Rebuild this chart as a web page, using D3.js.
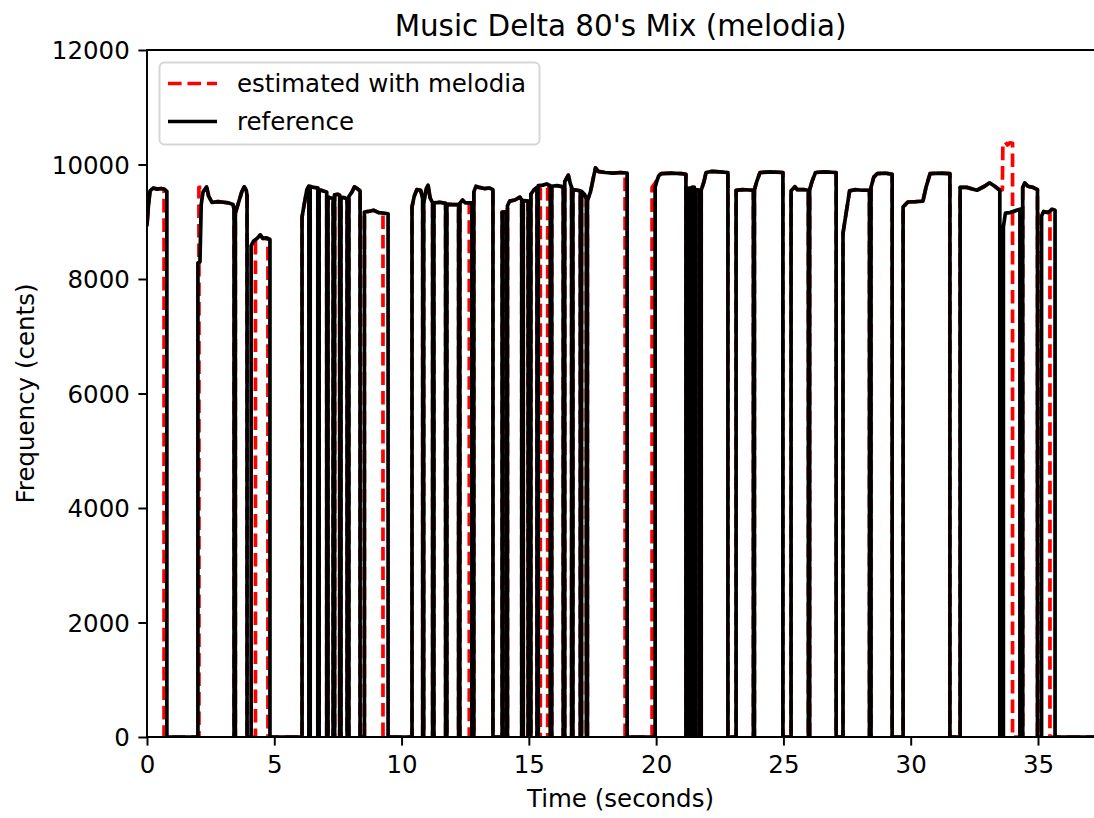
<!DOCTYPE html>
<html>
<head>
<meta charset="utf-8">
<script src="https://cdn.jsdelivr.net/npm/d3@7"></script>
<style>
  html, body { margin: 0; padding: 0; background: #ffffff; }
  svg { display: block; }
  text { font-family: "DejaVu Sans", sans-serif; fill: #000; }
</style>
</head>
<body>
<svg id="chart" width="1094" height="818"></svg>
<script>
// ---- chart text ----
const chartTitle = "Music Delta 80's Mix (melodia)";
const xLabel = "Time (seconds)";
const yLabel = "Frequency (cents)";
const seriesNames = ["estimated with melodia", "reference"];

// ---- axes ----
const xTicks = [0, 5, 10, 15, 20, 25, 30, 35];
const yTicks = [0, 2000, 4000, 6000, 8000, 10000, 12000];
const timeEnd = 37.2;     // last frame of the track (s)
const centsMax = 12000;

// ---- voiced segments: [time (s), pitch (cents)] ----
const refSegments = [
  [[0, 8950], [0.06, 9300], [0.12, 9540], [0.25, 9590], [0.4, 9570], [0.55, 9580], [0.68, 9570], [0.78, 9530]],
  [[2.0, 8280], [2.08, 8300], [2.13, 9300], [2.2, 9520], [2.34, 9610], [2.42, 9450], [2.55, 9340], [2.8, 9350], [3.0, 9340], [3.2, 9330], [3.38, 9300], [3.42, 9220]],
  [[3.47, 9150], [3.6, 9340], [3.72, 9520], [3.82, 9610], [3.9, 9550], [3.93, 9460]],
  [[4.09, 8580], [4.18, 8660], [4.3, 8700], [4.45, 8770], [4.55, 8710], [4.7, 8720], [4.83, 8690]],
  [[6.09, 9080], [6.15, 9240], [6.28, 9560], [6.36, 9620]],
  [[6.41, 9620], [6.55, 9600], [6.71, 9590]],
  [[6.76, 9560], [6.9, 9540], [7.06, 9520]],
  [[7.11, 9430], [7.2, 9420], [7.31, 9410]],
  [[7.37, 9470], [7.5, 9480], [7.57, 9460]],
  [[7.62, 9420], [7.75, 9420], [7.86, 9400]],
  [[7.93, 9440], [8.05, 9520], [8.15, 9610], [8.25, 9580], [8.37, 9540]],
  [[8.54, 9170], [8.7, 9180], [8.9, 9200], [9.1, 9160], [9.3, 9150], [9.47, 9140]],
  [[10.41, 9260], [10.5, 9450], [10.6, 9560], [10.75, 9550], [10.83, 9400]],
  [[10.87, 9330], [10.97, 9580], [11.04, 9640], [11.12, 9420], [11.22, 9330]],
  [[11.27, 9330], [11.5, 9340], [11.73, 9320]],
  [[11.78, 9310], [12.0, 9300], [12.24, 9300]],
  [[12.29, 9320], [12.4, 9380], [12.5, 9330], [12.76, 9330]],
  [[12.84, 9520], [12.92, 9620], [13.05, 9600], [13.25, 9580], [13.45, 9590], [13.59, 9560]],
  [[13.95, 9170], [14.1, 9170]],
  [[14.16, 9280], [14.25, 9360], [14.45, 9380], [14.65, 9430], [14.72, 9380]],
  [[14.78, 9370], [14.97, 9360]],
  [[15.08, 9480], [15.2, 9560], [15.32, 9600]],
  [[15.37, 9630], [15.55, 9640], [15.7, 9660], [15.84, 9630]],
  [[15.9, 9620], [16.1, 9630], [16.35, 9610]],
  [[16.41, 9700], [16.55, 9815], [16.62, 9680], [16.68, 9600]],
  [[16.73, 9560], [16.9, 9550], [17.02, 9540]],
  [[17.07, 9530], [17.18, 9480], [17.26, 9400]],
  [[17.3, 9370], [17.42, 9520], [17.55, 9800], [17.62, 9940], [17.72, 9880], [18.0, 9860], [18.3, 9850], [18.6, 9860], [18.86, 9850]],
  [[19.96, 9600], [20.02, 9700], [20.1, 9800], [20.2, 9840], [20.6, 9850], [21.0, 9840], [21.17, 9830]],
  [[21.23, 9580], [21.36, 9590]],
  [[21.41, 9600], [21.5, 9600]],
  [[21.55, 9560], [21.7, 9550]],
  [[21.77, 9550], [21.88, 9700], [21.96, 9860], [22.2, 9880], [22.5, 9870], [22.82, 9860]],
  [[23.14, 9550], [23.4, 9560], [23.82, 9550]],
  [[23.86, 9560], [23.95, 9700], [24.08, 9860], [24.5, 9870], [24.98, 9860]],
  [[25.3, 9540], [25.45, 9610], [25.55, 9560], [25.8, 9560], [25.98, 9550]],
  [[26.03, 9560], [26.12, 9700], [26.26, 9860], [26.6, 9870], [27.07, 9860]],
  [[27.34, 8800], [27.48, 9200], [27.6, 9540], [27.8, 9560], [28.1, 9550], [28.38, 9550]],
  [[28.44, 9600], [28.55, 9780], [28.68, 9840], [29.0, 9850], [29.27, 9830]],
  [[29.7, 9260], [29.89, 9345], [30.2, 9350], [30.48, 9360], [30.6, 9600], [30.76, 9840], [31.1, 9850], [31.54, 9840]],
  [[31.94, 9600], [32.2, 9600], [32.6, 9550], [32.9, 9620], [33.1, 9680], [33.3, 9620], [33.5, 9550]],
  [[33.64, 8910], [33.72, 9150], [33.9, 9160], [34.1, 9190], [34.29, 9220]],
  [[34.4, 9600], [34.48, 9680], [34.6, 9620], [34.8, 9600], [34.98, 9560]],
  [[35.14, 9100], [35.22, 9180], [35.4, 9160], [35.55, 9220], [35.67, 9200]]
];

const estSegments = [
  [[0, 8950], [0.06, 9300], [0.12, 9540], [0.25, 9590], [0.4, 9570], [0.55, 9580], [0.67, 9560]],
  [[2.04, 9600], [2.34, 9610], [2.42, 9450], [2.55, 9340], [2.8, 9350], [3.0, 9340], [3.2, 9330], [3.38, 9300], [3.42, 9220]],
  [[3.47, 9150], [3.6, 9340], [3.72, 9520], [3.82, 9610], [3.9, 9550], [3.93, 9460]],
  [[4.26, 8690], [4.45, 8770], [4.55, 8710], [4.75, 8700]],
  [[6.09, 9080], [6.15, 9240], [6.28, 9560], [6.36, 9620]],
  [[6.41, 9620], [6.55, 9600], [6.71, 9590]],
  [[6.76, 9560], [6.9, 9540], [7.06, 9520]],
  [[7.11, 9430], [7.2, 9420], [7.31, 9410]],
  [[7.37, 9470], [7.5, 9480], [7.57, 9460]],
  [[7.62, 9420], [7.75, 9420], [7.86, 9400]],
  [[7.93, 9440], [8.05, 9520], [8.15, 9610], [8.25, 9580], [8.37, 9540]],
  [[8.54, 9170], [8.7, 9180], [8.9, 9200], [9.1, 9160], [9.27, 9150]],
  [[10.41, 9260], [10.5, 9450], [10.6, 9560], [10.75, 9550], [10.83, 9400]],
  [[10.87, 9330], [10.97, 9580], [11.04, 9640], [11.12, 9420], [11.22, 9330]],
  [[11.27, 9330], [11.5, 9340], [11.73, 9320]],
  [[11.78, 9310], [12.0, 9300], [12.24, 9300]],
  [[12.29, 9320], [12.4, 9380], [12.5, 9330], [12.66, 9330]],
  [[12.84, 9520], [12.92, 9620], [13.05, 9600], [13.25, 9580], [13.45, 9590], [13.59, 9560]],
  [[13.95, 9170], [14.1, 9170]],
  [[14.16, 9280], [14.25, 9360], [14.45, 9380], [14.65, 9430], [14.72, 9380]],
  [[14.78, 9370], [14.97, 9360]],
  [[15.08, 9480], [15.2, 9560], [15.32, 9600]],
  [[15.45, 9600], [15.6, 9600], [15.74, 9590]],
  [[15.9, 9620], [16.1, 9630], [16.35, 9610]],
  [[16.41, 9700], [16.55, 9815], [16.62, 9680], [16.68, 9600]],
  [[16.73, 9560], [16.9, 9550], [17.02, 9540]],
  [[17.07, 9530], [17.18, 9480], [17.26, 9400]],
  [[17.3, 9370], [17.42, 9520], [17.55, 9800], [17.62, 9940], [17.72, 9880], [18.0, 9860], [18.3, 9850], [18.6, 9860], [18.78, 9850]],
  [[19.84, 9600], [19.97, 9680], [20.1, 9800], [20.2, 9840], [20.6, 9850], [21.0, 9840], [21.17, 9830]],
  [[21.23, 9580], [21.36, 9590]],
  [[21.41, 9600], [21.5, 9600]],
  [[21.55, 9560], [21.7, 9550]],
  [[21.77, 9550], [21.88, 9700], [21.96, 9860], [22.2, 9880], [22.5, 9870], [22.82, 9860]],
  [[23.14, 9550], [23.4, 9560], [23.82, 9550]],
  [[23.86, 9560], [23.95, 9700], [24.08, 9860], [24.5, 9870], [24.98, 9860]],
  [[25.3, 9540], [25.45, 9610], [25.55, 9560], [25.8, 9560], [25.98, 9550]],
  [[26.03, 9560], [26.12, 9700], [26.26, 9860], [26.6, 9870], [27.07, 9860]],
  [[27.34, 8800], [27.48, 9200], [27.6, 9540], [27.8, 9560], [28.1, 9550], [28.38, 9550]],
  [[28.44, 9600], [28.55, 9780], [28.68, 9840], [29.0, 9850], [29.27, 9830]],
  [[29.7, 9260], [29.89, 9345], [30.2, 9350], [30.48, 9360], [30.6, 9600], [30.76, 9840], [31.1, 9850], [31.54, 9840]],
  [[31.94, 9600], [32.2, 9600], [32.6, 9550], [32.9, 9620], [33.1, 9680], [33.3, 9620], [33.5, 9550], [33.6, 9560], [33.62, 10360], [33.72, 10390], [33.8, 10340], [33.9, 10380], [34.0, 10370]],
  [[34.4, 9600], [34.48, 9680], [34.6, 9620], [34.8, 9600], [34.98, 9560]],
  [[35.0, 9150], [35.2, 9180], [35.47, 9160]]
];

// ---- layout (px) ----
const plot = { left: 147, right: 1094, top: 50, bottom: 737 };
const fontSize = 24.5;          // 10 pt
const titleSize = 29.4;         // 12 pt
const lw = 3.7;                 // 1.5 pt lines
const spineW = 1.96;            // 0.8 pt spines/ticks
const tickLen = 8.6, tickPad = 8.6;

const svg = d3.select("#chart");

const x = d3.scaleLinear().domain([0, timeEnd]).range([plot.left, plot.right]);
const y = d3.scaleLinear().domain([0, centsMax]).range([plot.bottom, plot.top]);

// unvoiced frames drop to 0 cents between segments
function trackPoints(segments) {
  const pts = [];
  segments.forEach(seg => {
    const t0 = seg[0][0], t1 = seg[seg.length - 1][0];
    if (t0 > 0) pts.push([t0, 0]);
    seg.forEach(p => pts.push(p));
    pts.push([t1, 0]);
  });
  pts.push([timeEnd, 0]);
  return pts;
}

const line = d3.line().x(d => x(d[0])).y(d => y(d[1]));

svg.append("defs").append("clipPath").attr("id", "plotClip")
  .append("rect")
  .attr("x", plot.left).attr("y", plot.top)
  .attr("width", plot.right - plot.left).attr("height", plot.bottom - plot.top);

const lines = svg.append("g").attr("clip-path", "url(#plotClip)");

lines.append("path")
  .datum(trackPoints(estSegments))
  .attr("d", line)
  .attr("fill", "none")
  .attr("stroke", "#ff0000")
  .attr("stroke-width", lw)
  .attr("stroke-dasharray", "13.6,5.9")
  .attr("stroke-linejoin", "round")
  .attr("stroke-linecap", "butt");

lines.append("path")
  .datum(trackPoints(refSegments))
  .attr("d", line)
  .attr("fill", "none")
  .attr("stroke", "#000000")
  .attr("stroke-width", lw)
  .attr("stroke-linejoin", "round")
  .attr("stroke-linecap", "square");

// ---- spines (right edge falls outside the canvas) ----
const spines = svg.append("g").attr("stroke", "#000").attr("stroke-width", spineW).attr("fill", "none");
spines.append("line").attr("x1", plot.left).attr("x2", plot.left).attr("y1", plot.top).attr("y2", plot.bottom).attr("stroke-linecap", "square");
spines.append("line").attr("x1", plot.left).attr("x2", plot.right + 2).attr("y1", plot.bottom).attr("y2", plot.bottom).attr("stroke-linecap", "square");
spines.append("line").attr("x1", plot.left).attr("x2", plot.right + 2).attr("y1", plot.top).attr("y2", plot.top).attr("stroke-linecap", "square");

// ---- x axis ----
const xAxis = d3.axisBottom(x).tickValues(xTicks).tickSizeInner(tickLen).tickSizeOuter(0).tickPadding(tickPad)
  .tickFormat(d3.format("d"));
const gx = svg.append("g").attr("transform", `translate(0,${plot.bottom})`).call(xAxis);
gx.select(".domain").remove();
gx.selectAll(".tick line").attr("stroke", "#000").attr("stroke-width", spineW);
gx.selectAll(".tick text").attr("font-size", fontSize).attr("font-family", "DejaVu Sans").attr("fill", "#000")
  .attr("dy", "0.76em");

// ---- y axis ----
const yAxis = d3.axisLeft(y).tickValues(yTicks).tickSizeInner(tickLen).tickSizeOuter(0).tickPadding(tickPad)
  .tickFormat(d3.format("d"));
const gy = svg.append("g").attr("transform", `translate(${plot.left},0)`).call(yAxis);
gy.select(".domain").remove();
gy.selectAll(".tick line").attr("stroke", "#000").attr("stroke-width", spineW);
gy.selectAll(".tick text").attr("font-size", fontSize).attr("font-family", "DejaVu Sans").attr("fill", "#000")
  .attr("dy", "0.36em");

// ---- labels ----
svg.append("text")
  .attr("x", (plot.left + plot.right) / 2).attr("y", 35.5)
  .attr("text-anchor", "middle").attr("font-size", titleSize)
  .text(chartTitle);

svg.append("text")
  .attr("x", (plot.left + plot.right) / 2).attr("y", 807)
  .attr("text-anchor", "middle").attr("font-size", fontSize)
  .text(xLabel);

svg.append("text")
  .attr("transform", `translate(34,${(plot.top + plot.bottom) / 2}) rotate(-90)`)
  .attr("text-anchor", "middle").attr("font-size", fontSize)
  .text(yLabel);

// ---- legend ----
const leg = svg.append("g");
leg.append("rect")
  .attr("x", 159.5).attr("y", 62.5).attr("width", 380).attr("height", 82)
  .attr("rx", 5).attr("ry", 5)
  .attr("fill", "rgba(255,255,255,0.8)")
  .attr("stroke", "rgba(204,204,204,0.8)").attr("stroke-width", spineW);

const legendRows = [
  { name: seriesNames[0], color: "#ff0000", dash: "13.6,5.9", cy: 83.5 },
  { name: seriesNames[1], color: "#000000", dash: null, cy: 121.5 }
];
legendRows.forEach(r => {
  const l = leg.append("line")
    .attr("x1", 168).attr("x2", 217).attr("y1", r.cy).attr("y2", r.cy)
    .attr("stroke", r.color).attr("stroke-width", lw);
  if (r.dash) l.attr("stroke-dasharray", r.dash);
  leg.append("text")
    .attr("x", 237).attr("y", r.cy + 8.8)
    .attr("font-size", fontSize)
    .text(r.name);
});
</script>
</body>
</html>
